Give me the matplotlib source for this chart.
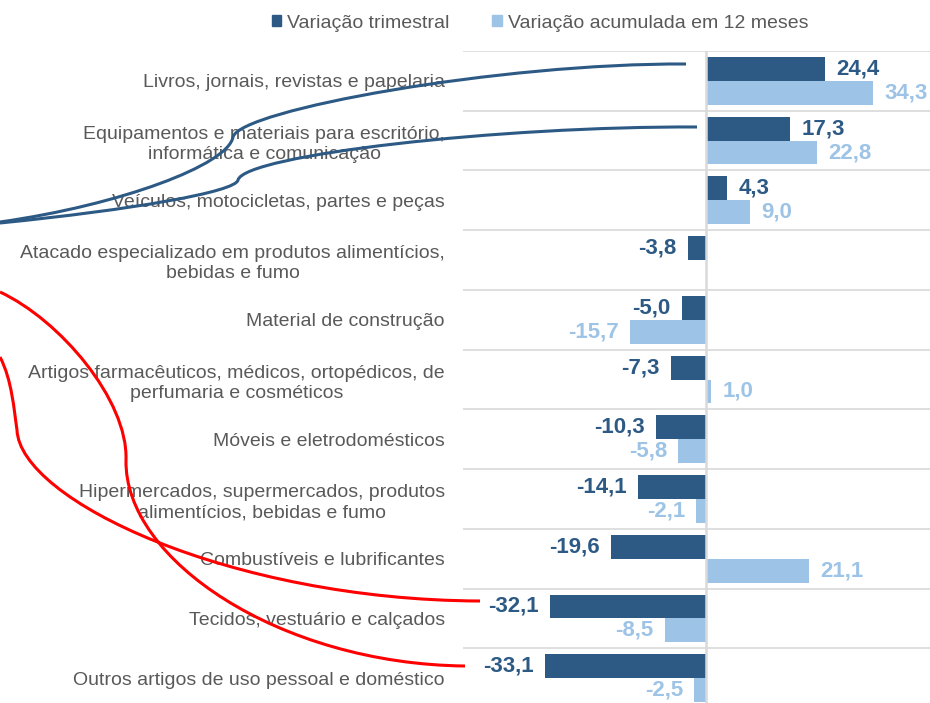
import numpy as np
import matplotlib
matplotlib.use("Agg")
import matplotlib.pyplot as plt
from matplotlib.path import Path
from matplotlib.patches import PathPatch, Patch

plt.rcParams['font.family'] = ['Liberation Sans', 'DejaVu Sans']

# %% DATA
categories = [
    "Livros, jornais, revistas e papelaria",
    "Equipamentos e materiais para escritório,\ninformática e comunicação",
    "Veículos, motocicletas, partes e peças",
    "Atacado especializado em produtos alimentícios,\nbebidas e fumo",
    "Material de construção",
    "Artigos farmacêuticos, médicos, ortopédicos, de\nperfumaria e cosméticos",
    "Móveis e eletrodomésticos",
    "Hipermercados, supermercados, produtos\nalimentícios, bebidas e fumo",
    "Combustíveis e lubrificantes",
    "Tecidos, vestuário e calçados",
    "Outros artigos de uso pessoal e doméstico",
]
var_trimestral = [24.4, 17.3, 4.3, -3.8, -5.0, -7.3, -10.3, -14.1, -19.6, -32.1, -33.1]
var_12meses = [34.3, 22.8, 9.0, np.nan, -15.7, 1.0, -5.8, -2.1, 21.1, -8.5, -2.5]
series_names = ["Variação trimestral", "Variação acumulada em 12 meses"]

DARK = "#2D5A85"
LIGHT = "#9DC3E6"
GRAY_TXT = "#595959"
GRID = "#D9D9D9"

# %% FIGURE
W, H = 930, 703
fig = plt.figure(figsize=(W / 100, H / 100), dpi=100)
ax = fig.add_axes([463 / W, 1 - 708 / H, 1 - 463 / W, 657 / H])

y = np.arange(len(categories))
h = 0.4
ax.barh(y - h / 2, var_trimestral, height=h, color=DARK, zorder=2)
ax.barh(y + h / 2, np.nan_to_num(var_12meses), height=h, color=LIGHT, zorder=2)

ax.set_xlim(-50, 46)
ax.set_ylim(len(categories) - 0.5, -0.5)

# separators between categories and zero line
for b in np.arange(len(categories) + 1) - 0.5:
    ax.axhline(b, color=GRID, lw=1.2, zorder=1)
ax.axvline(0, color=GRID, lw=1.8, zorder=3)

for s in ax.spines.values():
    s.set_visible(False)
ax.set_xticks([])
ax.set_yticks(y)
ax.set_yticklabels(categories, fontsize=14, color=GRAY_TXT)
ax.tick_params(axis='y', length=0, pad=13)
for t in ax.get_yticklabels():
    t.set_multialignment('center')
    t.set_linespacing(1.25)

# value labels
def fmt(v):
    return f"{v:.1f}".replace(".", ",")

for yi, v in zip(y, var_trimestral):
    off = 8 if v >= 0 else -8
    ax.annotate(fmt(v), (v, yi - h / 2), xytext=(off, 0), textcoords="offset points",
                ha="left" if v >= 0 else "right", va="center",
                fontsize=16, fontweight="bold", color=DARK)
for yi, v in zip(y, var_12meses):
    if np.isnan(v):
        continue
    off = 8 if v >= 0 else -8
    ax.annotate(fmt(v), (v, yi + h / 2), xytext=(off, 0), textcoords="offset points",
                ha="left" if v >= 0 else "right", va="center",
                fontsize=16, fontweight="bold", color=LIGHT)

# legend
handles = [Patch(color=DARK), Patch(color=LIGHT)]
fig.legend(handles, series_names, loc="center", bbox_to_anchor=(540 / W, 1 - 23 / H),
           ncol=2, frameon=False, fontsize=14, labelcolor=GRAY_TXT,
           handlelength=0.5, handleheight=0.5, handletextpad=0.3, columnspacing=2.2)

# hand-drawn connector curves (pixel coords, y from top)
def curve(segments, color):
    verts = [segments[0][0]]
    codes = [Path.MOVETO]
    for seg in segments:
        verts += list(seg[1:])
        codes += [Path.CURVE4] * 3
    verts = [(x / W, 1 - yy / H) for x, yy in verts]
    fig.add_artist(PathPatch(Path(verts, codes), fill=False, edgecolor=color,
                             lw=2.2, transform=fig.transFigure, zorder=5))

curve([[(686, 64), (500, 63), (240, 110), (233, 137)],
       [(233, 137), (228, 165), (120, 205), (0, 222)]], DARK)
curve([[(697, 127), (500, 126), (245, 155), (238, 180)],
       [(238, 180), (236, 192), (130, 210), (0, 223)]], DARK)
curve([[(0, 292), (60, 320), (128, 400), (126, 460)],
       [(126, 460), (124, 560), (280, 664), (465, 666)]], "#FF0000")
curve([[(0, 357), (12, 380), (14, 410), (17, 430)],
       [(17, 430), (20, 500), (230, 600), (480, 601)]], "#FF0000")

fig.savefig("out.png", dpi=100)
